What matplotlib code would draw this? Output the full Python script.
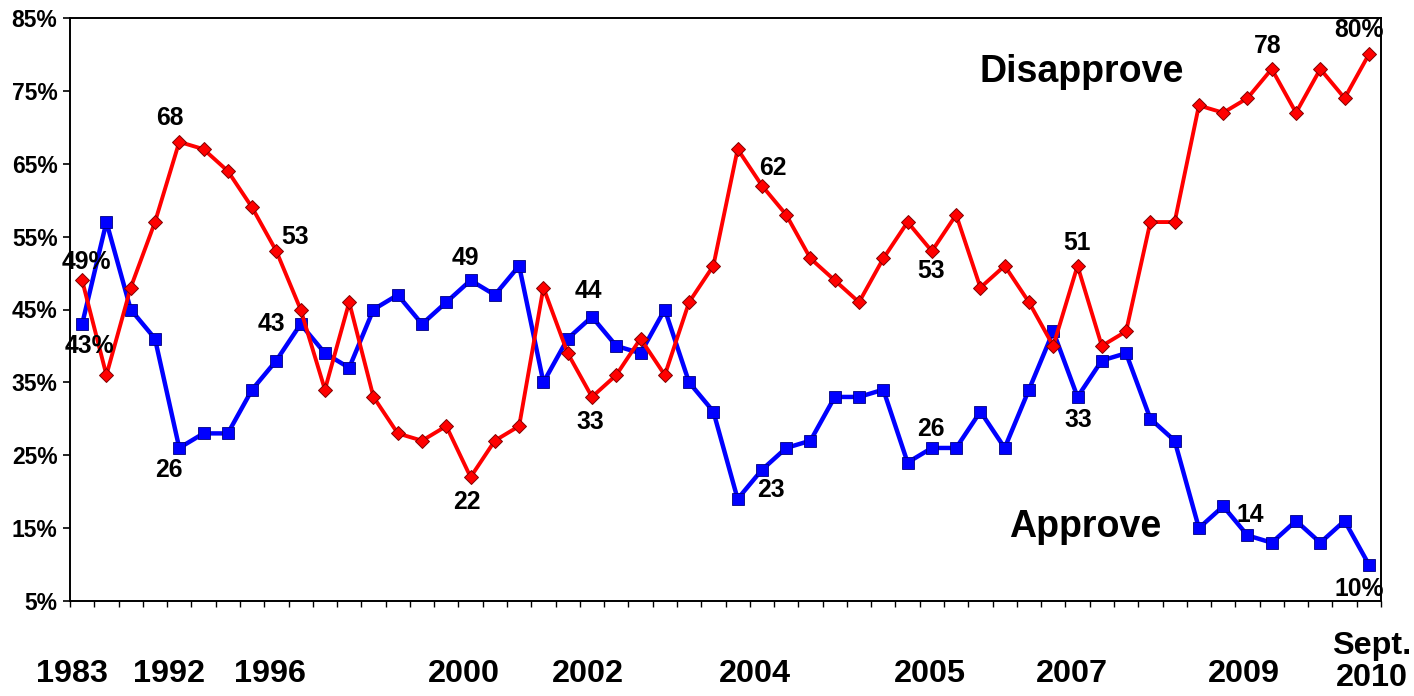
import matplotlib
matplotlib.use("Agg")
import matplotlib.pyplot as plt
from matplotlib.transforms import blended_transform_factory

plt.rcParams['font.family'] = ['Liberation Sans', 'DejaVu Sans']
plt.rcParams['font.weight'] = 'bold'

approve = [43, 57, 45, 41, 26, 28, 28, 34, 38, 43, 39, 37, 45, 47, 43, 46, 49, 47, 51,
           35, 41, 44, 40, 39, 45, 35, 31, 19, 23, 26, 27, 33, 33, 34, 24, 26, 26, 31,
           26, 34, 42, 33, 38, 39, 30, 27, 15, 18, 14, 13, 16, 13, 16, 10]
disapprove = [49, 36, 48, 57, 68, 67, 64, 59, 53, 45, 34, 46, 33, 28, 27, 29, 22, 27, 29,
              48, 39, 33, 36, 41, 36, 46, 51, 67, 62, 58, 52, 49, 46, 52, 57, 53, 58, 48,
              51, 46, 40, 51, 40, 42, 57, 57, 73, 72, 74, 78, 72, 78, 74, 80]
year_labels = ['1983', '1992', '1996', '2000', '2002', '2004', '2005', '2007', '2009', 'Sept.\n2010']
year_label_pos = [-0.42, 3.58, 7.74, 15.73, 20.83, 27.71, 34.92, 40.77, 47.85, 53.12]
y_ticks = [5, 15, 25, 35, 45, 55, 65, 75, 85]

# labelled points: (index, text, dx px, dy px)
approve_labels = [(0, '43%', 7, -22), (4, '26', -10, -22), (9, '43', -29, 0), (16, '49', -5, 22),
                  (21, '44', -4, 26), (28, '23', 9, -20), (35, '26', -1, 19), (41, '33', 1, -23),
                  (48, '14', 3, 20), (53, '10%', -10, -24)]
disapprove_labels = [(0, '49%', 4, 18), (4, '68', -9, 24), (8, '53', 19, 14), (16, '22', -4, -25),
                     (21, '33', -2, -25), (28, '62', 11, 18), (35, '53', -1, -20), (41, '51', 0, 23),
                     (49, '78', -4, 23), (53, '80%', -10, 24)]

fig = plt.figure(figsize=(14.14, 6.96), dpi=100)
ax = fig.add_axes([70/1414, 1-601/696, (1381-70)/1414, (601-18)/696])

x = list(range(len(approve)))
ax.plot(x, approve, color='#0000FF', lw=3.2, marker='s', ms=8.6,
        mfc='#0000FF', mec='#000080', mew=0.6, zorder=3)
ax.plot(x, disapprove, color='#FF0000', lw=2.8, marker='D', ms=6.8,
        mfc='#FF0000', mec='#800000', mew=0.7, zorder=4)

ax.set_xlim(-0.5, len(approve) - 0.5)
ax.set_ylim(5, 85)
ax.set_yticks(y_ticks)
ax.set_yticklabels([f'{v}%' for v in y_ticks], fontsize=16.5, fontweight='bold')
ax.tick_params(axis='y', length=5, width=1.2, pad=4)
ax.set_xticks([])
ax.set_xticks([i - 0.5 for i in range(len(approve) + 1)], minor=True)
ax.tick_params(axis='x', which='minor', length=4, width=1, direction='out')
for s in ax.spines.values():
    s.set_linewidth(1.4)

for idx, txt, dx, dy in approve_labels:
    ax.annotate(txt, (idx, approve[idx]), xytext=(dx, dy), textcoords='offset pixels',
                ha='center', va='center', fontsize=17.8, fontweight='bold', zorder=6)
for idx, txt, dx, dy in disapprove_labels:
    ax.annotate(txt, (idx, disapprove[idx]), xytext=(dx, dy), textcoords='offset pixels',
                ha='center', va='center', fontsize=17.8, fontweight='bold', zorder=6)

ax.text(1082/1414, 1-72/696, 'Disapprove', transform=fig.transFigure, ha='center', va='center',
        fontsize=27, fontweight='bold')
ax.text(1085/1414, 1-527/696, 'Approve', transform=fig.transFigure, ha='center', va='center',
        fontsize=27, fontweight='bold')

trans = blended_transform_factory(ax.transData, fig.transFigure)
for lab, pos in zip(year_labels, year_label_pos):
    yc = 1 - 662/696 if '\n' in lab else 1 - 674/696
    ax.text(pos, yc, lab, transform=trans, ha='center', va='center', fontsize=23.3,
            fontweight='bold', linespacing=1.12, clip_on=False)

fig.savefig('out.png', dpi=100)
